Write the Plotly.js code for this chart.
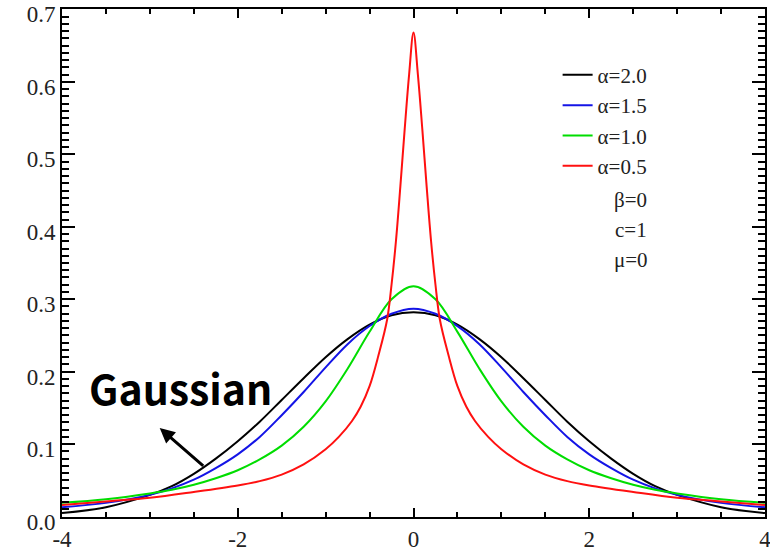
<!DOCTYPE html>
<html>
<head>
<meta charset="utf-8">
<script src="https://cdn.plot.ly/plotly-3.0.1.min.js"></script>
<style>html,body{margin:0;padding:0;background:#fff;}#chart{width:770px;height:552px;}#note{position:absolute;left:0;top:0;width:1px;height:1px;overflow:hidden;color:#fff;font-size:1px;}</style>
</head>
<body>
<div id="chart"></div>
<div id="note"></div>
<script>
// x grid shared by alpha = 2.0, 1.5, 1.0
const xGrid = [-4,-3.5,-3,-2.75,-2.5,-2.25,-2,-1.75,-1.5,-1.25,-1,-0.75,-0.5,-0.25,0,
               0.25,0.5,0.75,1,1.25,1.5,1.75,2,2.25,2.5,2.75,3,3.5,4];
const alpha20 = [0.005,0.013,0.030,0.042,0.059,0.080,0.104,0.131,0.161,0.191,0.220,0.245,0.265,0.278,0.282,
                 0.278,0.265,0.245,0.220,0.191,0.161,0.131,0.104,0.080,0.059,0.042,0.030,0.013,0.005];
const alpha15 = [0.013,0.019,0.030,0.039,0.051,0.067,0.086,0.110,0.140,0.172,0.206,0.238,0.263,0.280,0.287,
                 0.280,0.263,0.238,0.206,0.172,0.140,0.110,0.086,0.067,0.051,0.039,0.030,0.019,0.013];
const alpha10 = [0.019,0.024,0.032,0.037,0.044,0.053,0.064,0.079,0.098,0.124,0.159,0.204,0.255,0.300,0.318,
                 0.300,0.255,0.204,0.159,0.124,0.098,0.079,0.064,0.053,0.044,0.037,0.032,0.024,0.019];
// denser grid for alpha = 0.5 (sharp peak)
const xRed = [-4,-3.5,-3,-2.5,-2,-1.75,-1.5,-1.25,-1,-0.85,-0.7,-0.6,-0.5,-0.4,-0.3,-0.25,-0.2,-0.15,-0.1,-0.05,0,
              0.05,0.1,0.15,0.2,0.25,0.3,0.4,0.5,0.6,0.7,0.85,1,1.25,1.5,1.75,2,2.5,3,3.5,4];
const alpha05 = [0.016,0.021,0.026,0.034,0.043,0.049,0.058,0.072,0.093,0.110,0.132,0.152,0.180,0.222,0.272,0.320,0.380,0.455,0.535,0.610,0.668,
                 0.610,0.535,0.455,0.380,0.320,0.272,0.222,0.180,0.152,0.132,0.110,0.093,0.072,0.058,0.049,0.043,0.034,0.026,0.021,0.016];

const seriesNames = ['α=2.0','α=1.5','α=1.0','α=0.5'];
const seriesColors = ['#000000','#1414e6','#00dd00','#ff1010'];
const xTickVals = [-4,-2,0,2,4];
const xTickText = ['-4','-2','0','2','4'];
const paramLabels = ['β=0','c=1','μ=0'];

const xs = [xGrid, xGrid, xGrid, xRed];
const ys = [alpha20, alpha15, alpha10, alpha05];

const traces = ys.map((y, i) => ({
  x: xs[i], y: y, type: 'scatter', mode: 'lines', name: seriesNames[i],
  line: {color: seriesColors[i], width: 2, shape: 'spline', smoothing: 1}
}));

const serif = 'Liberation Serif, Times New Roman, serif';
const tickFont = {family: serif, size: 23, color: '#222'};

const annotations = [
  {xref: 'paper', yref: 'paper', x: 0.168, y: 0.256, xanchor: 'center', yanchor: 'middle',
   text: '<b>Gaussian</b>', showarrow: false,
   font: {family: 'Noto Sans CJK SC, Noto Sans, sans-serif', size: 41, color: '#000'}},
  {xref: 'paper', yref: 'paper', x: 0.139, y: 0.175, ax: 45, ay: 39,
   text: '', showarrow: true, arrowhead: 2, arrowsize: 1, arrowwidth: 3, arrowcolor: '#000'}
].concat(paramLabels.map((t, i) => ({
  xref: 'paper', yref: 'paper', x: 0.809, y: 0.624 - i * 0.059, xanchor: 'center', yanchor: 'middle',
  text: t, showarrow: false,
  font: {family: serif, size: 21, color: '#222'}
})));

const layout = {
  width: 770, height: 552,
  margin: {l: 62, r: 5, t: 9, b: 35},
  paper_bgcolor: '#fff', plot_bgcolor: '#fff',
  showlegend: true,
  legend: {x: 0.705, y: 0.91, xanchor: 'left', yanchor: 'top',
           bgcolor: 'rgba(0,0,0,0)', borderwidth: 0, tracegroupgap: 0,
           font: {family: serif, size: 21, color: '#222'}},
  xaxis: {range: [-4, 4], showline: true, linecolor: '#000', linewidth: 2,
          mirror: 'ticks', ticks: 'inside', ticklen: 9, tickwidth: 2, tickcolor: '#000',
          tickmode: 'array', tickvals: xTickVals, ticktext: xTickText, tickfont: tickFont,
          ticklabeloverflow: 'allow',
          minor: {dtick: 0.5, tick0: 0, ticks: 'inside', ticklen: 5, tickwidth: 2, tickcolor: '#000'},
          showgrid: false, zeroline: false},
  yaxis: {range: [-0.0005, 0.7005], showline: true, linecolor: '#000', linewidth: 2,
          mirror: 'ticks', ticks: 'inside', ticklen: 13, tickwidth: 2, tickcolor: '#000',
          dtick: 0.1, tick0: 0, tickformat: '.1f', tickfont: tickFont,
          ticklabeloverflow: 'allow', ticklabelshift: 5,
          minor: {dtick: 0.01, tick0: 0, ticks: 'inside', ticklen: 7, tickwidth: 2, tickcolor: '#000'},
          showgrid: false, zeroline: false},
  annotations: annotations
};

Plotly.newPlot('chart', traces, layout, {displayModeBar: false}).then(function (gd) {
  // force a layout pass / repaint after drawing so every tick path is painted
  const ticks = gd.querySelectorAll('path.xtick, path.ytick');
  let n = 0;
  ticks.forEach(function (t) { const r = t.getBoundingClientRect(); n += r.height >= 0 ? 1 : 0; getComputedStyle(t).display; });
  document.getElementById('note').textContent = String(n);
});
</script>
</body>
</html>
